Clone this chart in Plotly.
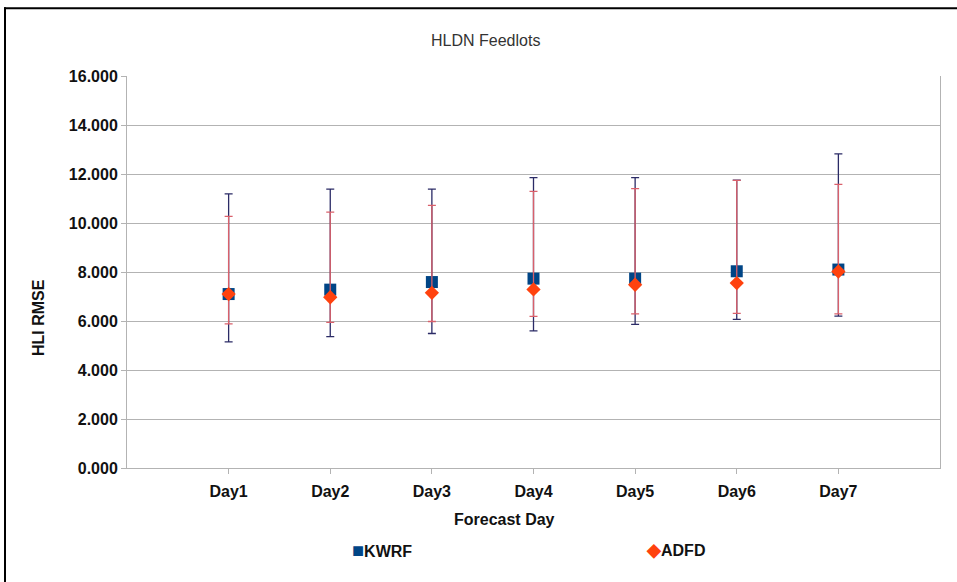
import plotly.graph_objects as go

days = ["Day1", "Day2", "Day3", "Day4", "Day5", "Day6", "Day7"]

kwrf_mean = [7.10, 7.28, 7.59, 7.73, 7.73, 8.03, 8.10]
kwrf_upper = [11.19, 11.38, 11.38, 11.85, 11.85, 11.75, 12.82]
kwrf_lower = [5.15, 5.36, 5.49, 5.60, 5.86, 6.07, 6.20]

adfd_mean = [7.10, 6.97, 7.15, 7.29, 7.48, 7.55, 8.02]
adfd_upper = [10.27, 10.44, 10.72, 11.29, 11.40, 11.74, 11.58]
adfd_lower = [5.88, 5.94, 5.98, 6.19, 6.29, 6.31, 6.29]

y_ticks = [0, 2, 4, 6, 8, 10, 12, 14, 16]

KWRF_COLOR = "#004586"
ADFD_COLOR = "#ff420e"

W, H = 957, 582
px_x = lambda p: p / W
px_y = lambda p: 1 - p / H

fig = go.Figure()
fig.add_trace(go.Scatter(
    x=days, y=kwrf_mean, mode="markers", name="KWRF",
    marker=dict(symbol="square", size=12, color=KWRF_COLOR),
    error_y=dict(type="data", symmetric=False,
                 array=[u - m for u, m in zip(kwrf_upper, kwrf_mean)],
                 arrayminus=[m - l for m, l in zip(kwrf_mean, kwrf_lower)],
                 color="#2b2b66", thickness=1.3, width=4),
))
fig.add_trace(go.Scatter(
    x=days, y=adfd_mean, mode="markers", name="ADFD",
    marker=dict(symbol="diamond", size=11, color=ADFD_COLOR),
    error_y=dict(type="data", symmetric=False,
                 array=[u - m for u, m in zip(adfd_upper, adfd_mean)],
                 arrayminus=[m - l for m, l in zip(adfd_mean, adfd_lower)],
                 color="#d9606b", thickness=1.3, width=4),
))

font_family = "Liberation Sans, Arial, sans-serif"
bold16 = dict(family=font_family, size=16, color="#111111", weight="bold")

fig.update_layout(
    width=W, height=H, autosize=False,
    margin=dict(l=0, r=0, t=0, b=0, pad=0),
    paper_bgcolor="white", plot_bgcolor="white",
    font=dict(family=font_family, color="#111111"),
    showlegend=False,
    xaxis=dict(domain=[px_x(127), px_x(940)], range=[-1, 7], type="category",
               showgrid=False, showline=True, linecolor="#b3b3b3", linewidth=1,
               ticks="outside", ticklen=5, tickcolor="#b3b3b3", automargin=False,
               tickfont=bold16, ticklabelstandoff=4),
    yaxis=dict(domain=[px_y(468), px_y(76)], range=[0, 16], tickvals=y_ticks,
               tickformat=".3f", showgrid=True, gridcolor="#b3b3b3", gridwidth=1,
               showline=True, linecolor="#b3b3b3", linewidth=1, mirror=True,
               ticks="outside", ticklen=5, tickcolor="#b3b3b3", automargin=False,
               zeroline=False, tickfont=bold16),
    annotations=[
        dict(text="HLDN Feedlots", x=px_x(485), y=px_y(41), xref="paper", yref="paper",
             showarrow=False, xanchor="center", yanchor="middle",
             font=dict(family=font_family, size=16, color="#333333")),
        dict(text="Forecast Day", x=px_x(504), y=px_y(519), xref="paper", yref="paper",
             showarrow=False, xanchor="center", yanchor="middle", font=bold16),
        dict(text="HLI RMSE", x=px_x(39), y=px_y(318), xref="paper", yref="paper",
             showarrow=False, xanchor="center", yanchor="middle", textangle=-90,
             font=bold16),
        # legend
        dict(text=f"<span style='color:{KWRF_COLOR};font-size:20px'>■</span>KWRF",
             x=px_x(350), y=px_y(550), xref="paper", yref="paper",
             showarrow=False, xanchor="left", yanchor="middle", font=bold16),
        dict(text=f"<span style='color:{ADFD_COLOR};font-size:18px'>◆</span>ADFD",
             x=px_x(644), y=px_y(550), xref="paper", yref="paper",
             showarrow=False, xanchor="left", yanchor="middle", font=bold16),
    ],
    shapes=[
        dict(type="line", xref="paper", yref="paper", x0=px_x(5), x1=px_x(5),
             y0=0, y1=px_y(7.3), line=dict(color="black", width=2)),
        dict(type="line", xref="paper", yref="paper", x0=px_x(4), x1=1,
             y0=px_y(8.3), y1=px_y(8.3), line=dict(color="black", width=2)),
    ],
)

fig.write_html("out.html", default_width="957px", default_height="582px",
               config={"responsive": False})
